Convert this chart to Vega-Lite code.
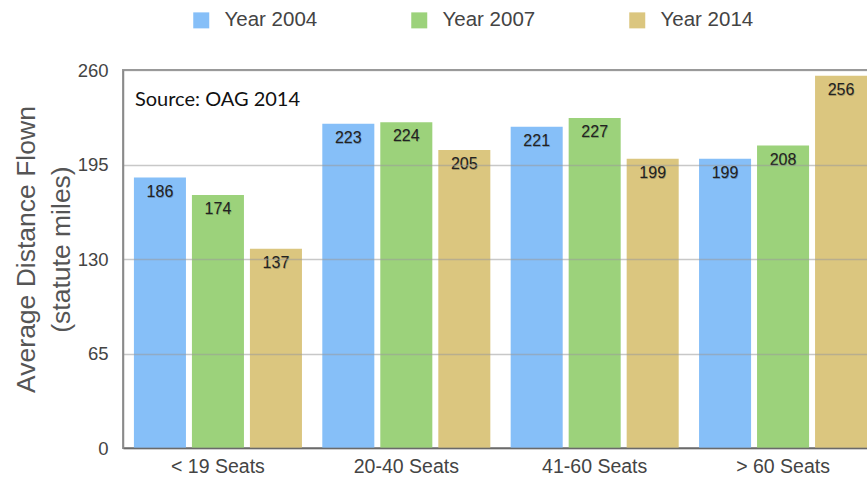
{
  "$schema": "https://vega.github.io/schema/vega-lite/v6.json",
  "autosize": "none",
  "padding": {"left": 123, "top": 70, "right": 0, "bottom": 31},
  "width": 755,
  "height": 378,
  "config": {
    "view": {"stroke": "#9a9a9a", "strokeWidth": 2},
    "font": "Liberation Sans"
  },
  "data": {
    "values": [
      {"seats": "< 19 Seats", "year": "Year 2004", "miles": 186},
      {"seats": "< 19 Seats", "year": "Year 2007", "miles": 174},
      {"seats": "< 19 Seats", "year": "Year 2014", "miles": 137},
      {"seats": "20-40 Seats", "year": "Year 2004", "miles": 223},
      {"seats": "20-40 Seats", "year": "Year 2007", "miles": 224},
      {"seats": "20-40 Seats", "year": "Year 2014", "miles": 205},
      {"seats": "41-60 Seats", "year": "Year 2004", "miles": 221},
      {"seats": "41-60 Seats", "year": "Year 2007", "miles": 227},
      {"seats": "41-60 Seats", "year": "Year 2014", "miles": 199},
      {"seats": "> 60 Seats", "year": "Year 2004", "miles": 199},
      {"seats": "> 60 Seats", "year": "Year 2007", "miles": 208},
      {"seats": "> 60 Seats", "year": "Year 2014", "miles": 256}
    ]
  },
  "encoding": {
    "x": {
      "field": "seats",
      "type": "nominal",
      "sort": ["< 19 Seats", "20-40 Seats", "41-60 Seats", "> 60 Seats"],
      "scale": {"paddingInner": 0.108, "paddingOuter": 0.058},
      "axis": {
        "title": null,
        "labelAngle": 0,
        "labelFontSize": 19.5,
        "labelColor": "#444444",
        "labelPadding": 9,
        "ticks": false,
        "domainColor": "#6a6a6a",
        "domainWidth": 1.5,
        "zindex": 1
      }
    }
  },
  "layer": [
    {
      "mark": {"type": "bar"},
      "encoding": {
        "xOffset": {
          "field": "year",
          "type": "nominal",
          "scale": {"paddingInner": 0.103, "paddingOuter": 0}
        },
        "y": {
          "field": "miles",
          "type": "quantitative",
          "scale": {"domain": [0, 260], "nice": false},
          "axis": {
            "values": [0, 65, 130, 195, 260],
            "title": ["Average Distance Flown", "(statute miles)"],
            "titleFontSize": 26.5,
            "titleFontWeight": "normal",
            "titleColor": "#555555",
            "titleAngle": -90,
            "titleBaseline": "middle",
            "titleAlign": "center",
            "titleLineHeight": 35,
            "titleX": -97,
            "titleY": 179,
            "labelFontSize": 18.5,
            "labelColor": "#444444",
            "labelPadding": 15,
            "ticks": false,
            "domainColor": "#8a8a8a",
            "domainWidth": 1.5,
            "gridColor": "#9a9a9a",
            "gridOpacity": 0.55,
            "gridWidth": 1.5,
            "zindex": 1
          }
        },
        "color": {
          "field": "year",
          "type": "nominal",
          "scale": {
            "domain": ["Year 2004", "Year 2007", "Year 2014"],
            "range": ["#86bff8", "#9cd27b", "#dbc67f"]
          },
          "legend": {
            "title": null,
            "orient": "none",
            "direction": "horizontal",
            "legendX": 68,
            "legendY": -60,
            "symbolType": "square",
            "symbolSize": 256,
            "symbolStrokeWidth": 0,
            "symbolOpacity": 1,
            "labelFontSize": 20.5,
            "labelColor": "#444444",
            "labelOffset": 13,
            "columnPadding": 91,
            "padding": 0
          }
        }
      }
    },
    {
      "mark": {"type": "text", "baseline": "middle", "align": "center", "dy": 15, "dx": 0.5, "fontSize": 16, "color": "#000000", "opacity": 0.25},
      "encoding": {
        "xOffset": {"field": "year", "type": "nominal"},
        "y": {"field": "miles", "type": "quantitative"},
        "text": {"field": "miles", "type": "quantitative"}
      }
    },
    {
      "mark": {"type": "text", "baseline": "middle", "align": "center", "dy": 14, "fontSize": 16, "color": "#222222"},
      "encoding": {
        "xOffset": {"field": "year", "type": "nominal"},
        "y": {"field": "miles", "type": "quantitative"},
        "text": {"field": "miles", "type": "quantitative"}
      }
    },
    {
      "data": {"values": [{"note": "Source: OAG 2014"}]},
      "mark": {"type": "text", "align": "left", "baseline": "middle", "font": "Lato", "fontSize": 20, "color": "#111111", "dx": 1},
      "encoding": {
        "x": {"datum": "< 19 Seats", "bandPosition": 0},
        "y": {"datum": 239.4},
        "text": {"field": "note"}
      }
    }
  ]
}
